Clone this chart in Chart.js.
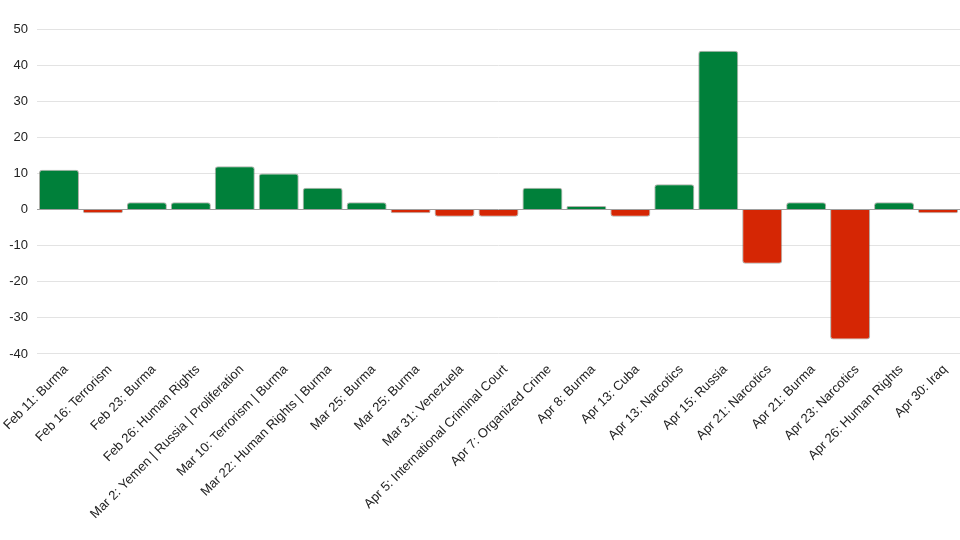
<!DOCTYPE html>
<html>
<head>
<meta charset="utf-8">
<script src="https://cdn.jsdelivr.net/npm/chart.js@4/dist/chart.umd.min.js"></script>
<style>
  html, body { margin: 0; padding: 0; background: #fff; }
  #wrap { width: 960px; height: 540px; }
</style>
</head>
<body>
<div id="wrap"><canvas id="bars"></canvas></div>
<script>
var labels = [
  "Feb 11: Burma", "Feb 16: Terrorism", "Feb 23: Burma", "Feb 26: Human Rights",
  "Mar 2: Yemen | Russia | Proliferation", "Mar 10: Terrorism | Burma",
  "Mar 22: Human Rights | Burma", "Mar 25: Burma", "Mar 25: Burma",
  "Mar 31: Venezuela", "Apr 5: International Criminal Court", "Apr 7: Organized Crime",
  "Apr 8: Burma", "Apr 13: Cuba", "Apr 13: Narcotics", "Apr 15: Russia",
  "Apr 21: Narcotics", "Apr 21: Burma", "Apr 23: Narcotics",
  "Apr 26: Human Rights", "Apr 30: Iraq"
];
var values = [11, -1, 2, 2, 12, 10, 6, 2, -1, -2, -2, 6, 1, -2, 7, 44, -15, 2, -36, 2, -1];
var yTicks = [50, 40, 30, 20, 10, 0, -10, -20, -30, -40];

var green = "#00803a";
var red = "#d52604";

var ctx = document.getElementById("bars");
var chart = new Chart(ctx, {
  type: 'bar',
  data: {
    labels: labels,
    datasets: [{
      data: values,
      backgroundColor: values.map(function (v) { return v >= 0 ? green : red; }),
      borderColor: "rgba(110,110,100,0.55)",
      borderWidth: 1,
      borderRadius: 3,
      categoryPercentage: 1,
      barPercentage: 0.91
    }]
  },
  options: {
    responsive: true,
    maintainAspectRatio: false,
    animation: false,
    layout: { padding: { top: 29, right: 0, left: 0, bottom: 10 } },
    plugins: { legend: { display: false }, tooltip: { enabled: false } },
    scales: {
      x: {
        afterFit: function (axis) { axis.paddingLeft = 0; axis.paddingRight = 0; },
        grid: { display: false, drawTicks: false },
        border: { display: false },
        ticks: {
          color: "#222",
          font: { family: "Arial, 'Liberation Sans'", size: 13 },
          maxRotation: 45,
          minRotation: 45,
          autoSkip: false,
          labelOffset: 7,
          padding: 8
        }
      },
      y: {
        min: -40,
        max: 50,
        afterBuildTicks: function (axis) {
          axis.ticks = yTicks.map(function (v) { return { value: v }; });
        },
        afterFit: function (axis) { axis.width = 37; },
        grid: {
          drawTicks: false,
          color: function (c) { return c.tick && c.tick.value === 0 ? "#9e9e9e" : "#e3e3e3"; }
        },
        border: { display: false },
        ticks: {
          color: "#222",
          font: { family: "Arial, 'Liberation Sans'", size: 13 },
          padding: 9
        }
      }
    }
  }
});
</script>
</body>
</html>
